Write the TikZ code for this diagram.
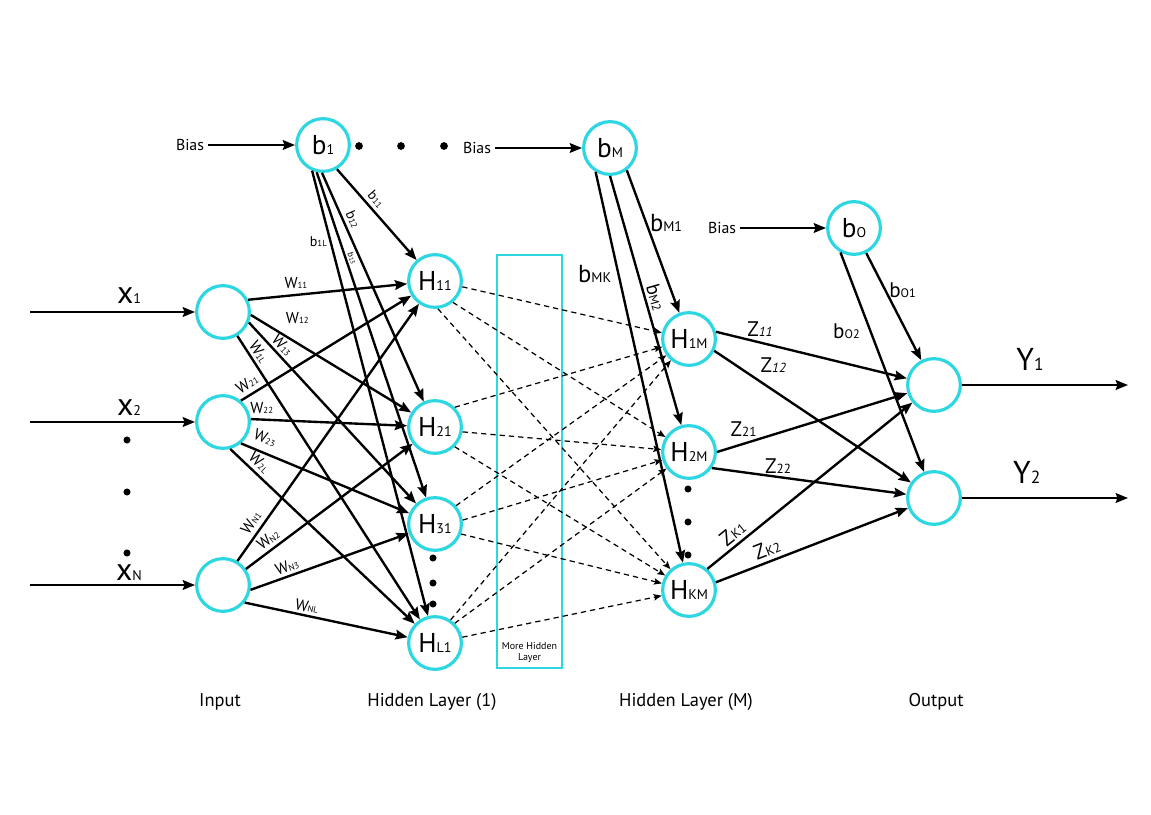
\documentclass[tikz,border=0pt]{standalone}
\usepackage{fontspec}
\setmainfont{PT Sans}
\usetikzlibrary{arrows.meta, positioning}

\definecolor{nncyan}{RGB}{45,215,225}

\newcommand{\nsub}[1]{{\fontsize{8}{8}\selectfont #1}}
\newcommand{\wsub}[1]{{\fontsize{5}{5}\selectfont #1}}
\newcommand{\tsub}[1]{{\fontsize{3.5}{3.5}\selectfont #1}}
\newcommand{\osub}[1]{{\fontsize{7}{7}\selectfont #1}}
\newcommand{\zsub}[1]{{\fontsize{7.5}{7.5}\selectfont #1}}
\newcommand{\ysub}[1]{{\fontsize{10}{10}\selectfont #1}}

\tikzset{
  neuron/.style={circle, draw=nncyan, line width=1.8pt, minimum size=30pt,
                 inner sep=0pt, font=\fontsize{15.5}{15.5}\selectfont},
  conn/.style={-{Stealth[length=7pt, width=5.5pt, inset=1pt]}, line width=1.35pt},
  hidconn/.style={-{Stealth[length=4.5pt, width=3.6pt, inset=0.8pt]},
                  line width=0.7pt, dash pattern=on 3pt off 2.3pt},
  wlab/.style={inner sep=0.5pt, font=\fontsize{9}{9}\selectfont},
  blab/.style={inner sep=0.5pt, font=\fontsize{8}{8}\selectfont},
  tinylab/.style={inner sep=0.3pt, font=\fontsize{5}{5}\selectfont},
  bmlab/.style={inner sep=1pt, font=\fontsize{14}{14}\selectfont},
  bmslab/.style={inner sep=1pt, font=\fontsize{11}{11}\selectfont},
  olab/.style={inner sep=1pt, font=\fontsize{12}{12}\selectfont},
  zlab/.style={inner sep=1pt, font=\fontsize{12}{12}\selectfont},
  xlab/.style={inner sep=1pt, font=\fontsize{18}{18}\selectfont},
  ylab/.style={inner sep=1pt, font=\fontsize{18}{18}\selectfont},
  biastext/.style={inner sep=2pt, font=\fontsize{9}{9}\selectfont},
  layertext/.style={font=\fontsize{10.5}{10.5}\selectfont},
  hidbox/.style={draw=nncyan, line width=0.8pt, minimum width=1.3cm,
                 minimum height=8.26cm, inner sep=0pt},
  boxtext/.style={align=center, inner sep=1pt, font=\fontsize{5.7}{6.3}\selectfont}
}

\begin{document}
\begin{tikzpicture}[x=0.02cm, y=-0.02cm]
        \path [use as bounding box, fill=white] (0,0) rectangle (1151,814);

        % input layer
        \node (I1) [neuron] at (223,312) {};
        \node (I2) [neuron] at (223,422) {};
        \node (IN) [neuron] at (223,585) {};
        \coordinate (x1in) at (30,312);
        \coordinate (x2in) at (30,422);
        \coordinate (xNin) at (30,585);

        % hidden layer (1)
        \node (b1) [neuron] at (323,145) {b\nsub{1}};
        \node (H11) [neuron] at (435,281) {H\nsub{11}};
        \node (H21) [neuron] at (435,427) {H\nsub{21}};
        \node (H31) [neuron] at (435,524) {H\nsub{31}};
        \node (HL1) [neuron] at (435,643) {H\nsub{L1}};

        % more hidden layers
        \node (more) [hidbox] at (529.5,461.5) {};
        \node (moretxt) [boxtext, above=2pt of more.south] {More Hidden\\Layer};

        % hidden layer (M)
        \node (bM) [neuron] at (610,148) {b\nsub{M}};
        \node (H1M) [neuron] at (689,339) {H\nsub{1M}};
        \node (H2M) [neuron] at (689,452) {H\nsub{2M}};
        \node (HKM) [neuron] at (689,590) {H\nsub{KM}};

        % output layer
        \node (bO) [neuron] at (854,228) {b\nsub{O}};
        \node (O1) [neuron] at (934,385) {};
        \node (O2) [neuron] at (934,498) {};
        \coordinate (y1out) at (1128,385);
        \coordinate (y2out) at (1128,498);

        \node (bias1) [biastext] at (190,145) {Bias};
        \node (biasM) [biastext] at (477,148) {Bias};
        \node (biasO) [biastext] at (722,228) {Bias};

        \node (tin) [layertext] at (220,702) {Input};
        \node (th1) [layertext] at (432,702) {Hidden Layer (1)};
        \node (thm) [layertext] at (686,702) {Hidden Layer (M)};
        \node (tout) [layertext] at (936,702) {Output};

        \fill (359,146) circle (2.2pt) (401,146) circle (2.2pt) (444,146) circle (2.2pt);
        \fill (127,440) circle (2pt) (127,492) circle (2pt) (127,553) circle (2pt);
        \fill (433,558) circle (2pt) (433,583) circle (2pt) (433,604) circle (2pt);
        \fill (688,489) circle (2pt) (688,522) circle (2pt) (688,555) circle (2pt);

        \path [conn]
          (x1in) edge node (lx1) [xlab, pos=.6, above=3pt] {x\nsub{1}} (I1)
          (x2in) edge node (lx2) [xlab, pos=.6, above=1.8pt] {x\nsub{2}} (I2)
          (xNin) edge node (lxN) [xlab, pos=.6, above=0.7pt] {x\nsub{N}} (IN)

          (bias1) edge (b1)
          (biasM) edge (bM)
          (biasO) edge (bO)

          (I1.26) edge node (w11) [wlab, pos=.3, above=2.5pt] {W\wsub{11}} (H11)
          (I1.-6) edge node (w12) [wlab, pos=.29, above=10pt] {W\wsub{12}} (H21)
          (I1.-22) edge node (w13) [wlab, pos=.16, sloped, above=1pt] {W\wsub{13}} (H31)
          (I1.-59) edge node (w1l) [wlab, pos=.075, sloped, above=1pt] {W\wsub{1L}} (HL1)
          (I2.50) edge node (w21) [wlab, pos=.07, sloped, above=2pt] {W\wsub{21}} (H11)
          (I2.6) edge node (w22) [wlab, pos=.07, above=2.3pt] {W\wsub{22}} (H21)
          (I2.-50) edge node (w23) [wlab, pos=.11, sloped, above=4pt] {W\wsub{23}} (H31)
          (I2.-75) edge node (w2l) [wlab, pos=.12, sloped, above=1.5pt] {W\wsub{2L}} (HL1)
          (IN.59) edge node (wn1) [wlab, pos=.125, sloped, above=2pt] {W\wsub{N1}} (H11)
          (IN.35) edge node (wn2) [wlab, pos=.17, sloped, above=1.5pt] {W\wsub{N2}} (H21)
          (IN.-10) edge node (wn3) [wlab, pos=.25, sloped, above=1pt] {W\wsub{N3}} (H31)
          (IN.-39) edge node (wnl) [wlab, pos=.37, sloped, above=1pt] {W\wsub{NL}} (HL1)

          (b1.300) edge node (b11) [blab, pos=.4, sloped, above=1.5pt] {b\wsub{11}} (H11)
          (b1.268) edge node (b12) [blab, pos=.22, sloped, above=1.5pt] {b\wsub{12}} (H21)
          (b1.257) edge node (b13) [tinylab, pos=.27, sloped, above=0.8pt] {b\tsub{13}} (H31)
          (b1.247) edge node (b1l) [blab, pos=.16, left=1pt] {b\wsub{1L}} (HL1)

          (bM.307) edge node (bm1) [bmlab, pos=.37, right=0.5pt] {b\nsub{M1}} (H1M)
          (bM.270) edge node (bm2) [bmslab, pos=.5, sloped, above=0.5pt] {b\osub{M2}} (H2M)
          (bM.239) edge node (bmk) [bmlab, pos=.26, left=2.4pt] {b\nsub{MK}} (HKM)

          (bO.296) edge node (bo1) [olab, pos=.35, right=0.5pt] {b\osub{O1}} (O1)
          (bO.241) edge node (bo2) [olab, pos=.36, left=4.5pt] {b\osub{O2}} (O2)

          (H1M.15) edge node (z11) [zlab, pos=.23, above=2pt] {Z\zsub{\itshape 11}} (O1)
          (H1M.-25) edge node (z12) [zlab, pos=.3, above=8.4pt] {Z\zsub{\itshape 12}} (O2)
          (H2M.0) edge node (z21) [zlab, pos=.14, above=2.7pt] {Z\zsub{21}} (O1)
          (H2M.-35) edge node (z22) [zlab, pos=.34, above=0.5pt] {Z\zsub{22}} (O2)
          (HKM.49) edge node (zk1) [zlab, pos=.16, sloped, above=1pt] {Z\zsub{K1}} (O1)
          (HKM.16) edge node (zk2) [zlab, pos=.29, sloped, above=1.5pt] {Z\zsub{K2}} (O2)

          (O1) edge node (ly1) [ylab, pos=.41, above=6.4pt] {Y\ysub{1}} (y1out)
          (O2) edge node (ly2) [ylab, pos=.39, above=6.4pt] {Y\ysub{2}} (y2out);

        \path [hidconn]
          (H11.-12) edge (H1M)
          (H11.-50) edge (H2M)
          (H11.-84) edge (HKM)
          (H21.45) edge (H1M)
          (H21.-10) edge (H2M)
          (H21.-45) edge (HKM)
          (H31.41) edge (H1M)
          (H31.8) edge (H2M)
          (H31.-21) edge (HKM)
          (HL1.56) edge (H1M)
          (HL1.45) edge (H2M)
          (HL1.12) edge (HKM);
\end{tikzpicture}
\end{document}
